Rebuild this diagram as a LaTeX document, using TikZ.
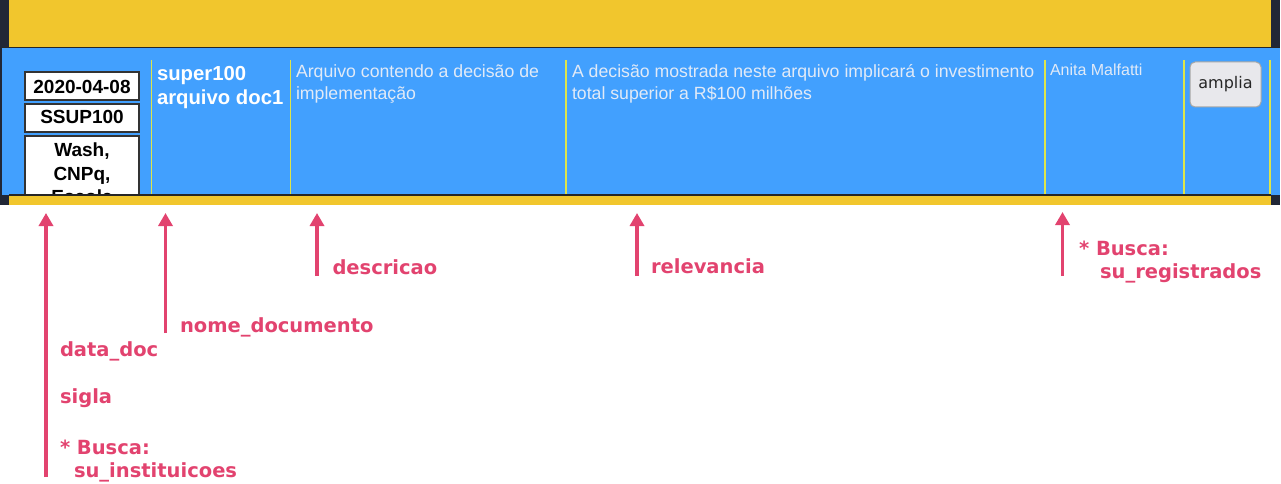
\documentclass[tikz,border=0pt]{standalone}
\usepackage{fontspec}
\setmainfont{Liberation Sans}
\newfontfamily\notefont{DejaVu Sans}
\usetikzlibrary{arrows.meta, positioning}
\definecolor{barYellow}{HTML}{F1C62D}
\definecolor{rowBlue}{HTML}{42A0FE}
\definecolor{frameDark}{HTML}{212736}
\definecolor{sepLine}{HTML}{DDE54A}
\definecolor{notePink}{HTML}{E2436F}
\definecolor{paleText}{HTML}{E1EAF7}
\definecolor{btnGray}{HTML}{E8E8EC}

\begin{document}
\begin{tikzpicture}[x=1pt, y=-1pt,
  note/.style={anchor=base west, inner sep=0, outer sep=0, text=notePink, font=\notefont\bfseries\fontsize{19.5}{23}\selectfont},
  pointer/.style={draw=notePink, line width=3.5pt, -{Triangle[length=13pt,width=14pt]}},
  cell/.style={anchor=base west, inner sep=0, outer sep=0, text=paleText, font=\fontsize{17.7}{22}\selectfont},
  tag/.style={draw=black!80, line width=1.3pt, fill=white},
  tagtext/.style={anchor=base, inner sep=0, outer sep=0, font=\bfseries\fontsize{19}{24}\selectfont}]
  \useasboundingbox (0,0) rectangle (1281,484);

  \fill [frameDark] (0,0) rectangle (1280,205);
  \fill [barYellow] (9,0) rectangle (1271,47);
  \fill [rowBlue] (2,48) rectangle (1280,195);
  \draw [black!85, line width=1.5pt] (2,47.5) -- (1280,47.5);

  \foreach \x in {151.5,290.5,566,1045,1184,1270}
    \draw [sepLine, line width=1.2pt] (\x,60) -- (\x,195);

  \draw [tag] (25,72) rectangle (139,100);
  \node [tagtext] (dataDoc) at (82,94) {2020-04-08};
  \draw [tag] (25,104) rectangle (139,132);
  \node [tagtext] (siglaDoc) at (82,124) {SSUP100};
  \begin{scope}
    \clip (0,0) rectangle (1281,195);
    \draw [tag] (25,136) rectangle (139,215);
    \node [tagtext] (instA) at (82,156) {Wash,};
    \node [tagtext] (instB) at (82,180) {CNPq,};
    \node [tagtext] (instC) at (82,203) {Escola};
  \end{scope}

  \node [cell, text=white, font=\bfseries\fontsize{20.3}{24}\selectfont] (nomeA) at (157,81) {super100};
  \node [cell, text=white, font=\bfseries\fontsize{20.3}{24}\selectfont] (nomeB) at (157,105) {arquivo doc1};
  \node [cell] (descA) at (296,78) {Arquivo contendo a decisão de};
  \node [cell] (descB) at (296,100) {implementação};
  \node [cell] (relA) at (572,78) {A decisão mostrada neste arquivo implicará o investimento};
  \node [cell] (relB) at (572,100) {total superior a R\$100 milhões};
  \node [cell, font=\fontsize{16}{19}\selectfont] (registrado) at (1050,76) {Anita Malfatti};
  \node [draw=black!35, line width=1pt, fill=btnGray, rounded corners=5pt, minimum width=71pt, minimum height=45pt, inner sep=0, font=\notefont\fontsize{16}{19}\selectfont, text=black!85] (amplia) at (1225.5,84.5) {amplia};

  \fill [barYellow] (9,195) rectangle (1271,205);
  \draw [black!85, line width=1.5pt] (9,195) -- (1271,195);

  \coordinate (dataTop) at (46,213);
  \coordinate (dataFoot) at (46,477);
  \coordinate (nomeTop) at (165.5,213);
  \coordinate (nomeFoot) at (165.5,333);
  \coordinate (descTop) at (317,213);
  \coordinate (descFoot) at (317,276);
  \coordinate (relTop) at (637,213);
  \coordinate (relFoot) at (637,276);
  \coordinate (regTop) at (1062.5,212);
  \coordinate (regFoot) at (1062.5,276);
  \draw [pointer] (dataFoot) -- (dataTop);
  \draw [pointer] (nomeFoot) -- (nomeTop);
  \draw [pointer] (descFoot) -- (descTop);
  \draw [pointer] (relFoot) -- (relTop);
  \draw [pointer] (regFoot) -- (regTop);

  \node [note] (descLabel) at (332.5,274) {descricao};
  \node [note] (relLabel) at (651,273) {relevancia};
  \node [note] (regLabelA) at (1079,255) {* Busca:};
  \node [note] (regLabelB) at (1100,278) {su\_registrados};
  \node [note] (nomeLabel) at (180,332) {nome\_documento};
  \node [note] (dataLabel) at (60,356) {data\_doc};
  \node [note] (siglaLabel) at (60,403) {sigla};
  \node [note] (instLabelA) at (60,454) {* Busca:};
  \node [note] (instLabelB) at (74,477.5) {su\_instituicoes};
\end{tikzpicture}
\end{document}
